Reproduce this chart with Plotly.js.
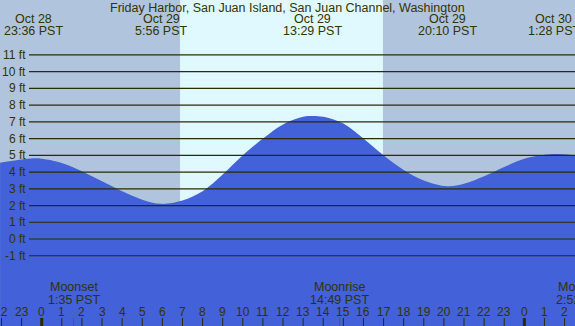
<!DOCTYPE html>
<html>
<head>
<meta charset="utf-8">
<script src="https://cdn.plot.ly/plotly-3.0.1.min.js"></script>
<style>html,body{margin:0;padding:0;background:#b0c4de;}#chart{width:575px;height:326px;}</style>
</head>
<body>
<div id="chart"></div>
<script>
// Tide heights (ft), hours relative to Oct 29 00:00 PST
var tideHours = [-2.07, -1, -0.4, 0, 1, 2, 3, 4, 5, 5.93, 7, 8, 9, 10, 11, 12, 13, 13.48, 14, 15, 16, 17, 18, 19, 20.17, 21, 22, 23, 24, 25.47, 26.52];
var tideFeet  = [4.56, 4.75, 4.82, 4.80, 4.55, 4.05, 3.45, 2.85, 2.35, 2.10, 2.30, 2.85, 3.85, 5.00, 6.00, 6.85, 7.30, 7.35, 7.30, 6.90, 6.00, 5.00, 4.12, 3.50, 3.15, 3.30, 3.75, 4.30, 4.80, 5.08, 5.00];

// Extremes labelled at top
var extremeHours = [-0.4, 5.933, 13.483, 20.167, 25.467];
var extremeDates = ["Oct 28", "Oct 29", "Oct 29", "Oct 29", "Oct 30"];
var extremeTimes = ["23:36 PST", "5:56 PST", "13:29 PST", "20:10 PST", "1:28 PST"];

// Moon events
var moonHours = [1.583, 14.817, 26.867];
var moonNames = ["Moonset", "Moonrise", "Moonset"];
var moonTimes = ["1:35 PST", "14:49 PST", "2:52 PST"];

// Hour ticks along the bottom
var hourTicks = [-2, -1, 0, 1, 2, 3, 4, 5, 6, 7, 8, 9, 10, 11, 12, 13, 14, 15, 16, 17, 18, 19, 20, 21, 22, 23, 24, 25, 26];
var hourLabels = ["22","23","0","1","2","3","4","5","6","7","8","9","10","11","12","13","14","15","16","17","18","19","20","21","22","23","0","1","2"];

// Height levels (ft)
var levels = [-1, 0, 1, 2, 3, 4, 5, 6, 7, 8, 9, 10, 11];

// Daylight
var sunrise = 6.88, sunset = 16.97;

var title = "Friday Harbor, San Juan Island, San Juan Channel, Washington";

var txt = "#333300";
var fontFam = "Liberation Sans, Arial, sans-serif";
var W = 575, H = 326;
var X0 = 41.7, PXH = 20.11;
var xmin = -X0/PXH, xmax = (W - X0)/PXH;
function toPaper(h){ return (h - xmin)/(xmax - xmin); }

var baseline = tideHours.map(function(){ return -10; });

var traces = [
  {x: tideHours, y: baseline, mode: "lines", line: {width: 0, color: "#4361d8"}, hoverinfo: "skip", showlegend: false},
  {x: tideHours, y: tideFeet, mode: "lines", line: {width: 0, shape: "spline", smoothing: 1, color: "#4361d8"},
   fill: "tonexty", fillcolor: "#4361d8", hoverinfo: "skip", showlegend: false}
];

var shapes = [];
shapes.push({type: "rect", xref: "x", yref: "paper", x0: sunrise, x1: sunset, y0: 0, y1: 1,
             fillcolor: "#e0f8ff", line: {width: 0}, layer: "below"});
levels.forEach(function(l){
  shapes.push({type: "line", xref: "paper", yref: "y", x0: 29/W, x1: 1, y0: l, y1: l,
               line: {color: "#2b2b00", width: 1.2}, layer: "above"});
});
hourTicks.forEach(function(h, i){
  var thick = (hourLabels[i] === "0");
  shapes.push({type: "line", xref: "x", yref: "paper", x0: h, x1: h, y0: 0, y1: 1 - 318/H,
               line: {color: "#2b2b00", width: thick ? 3 : 1}, layer: "above"});
});
moonHours.forEach(function(h){
  shapes.push({type: "line", xref: "x", yref: "paper", x0: h, x1: h, y0: 0, y1: 1 - 318/H,
               line: {color: "#6b5a1a", width: 1}, layer: "above"});
});

var ann = [];
function A(x, y, text, xanchor, size){
  ann.push({x: x, xref: "paper", y: y, yref: "paper", text: text, showarrow: false,
            xanchor: xanchor || "center", yanchor: "middle",
            font: {family: fontFam, size: size || 12.5, color: txt}});
}
var yr = 239/16.73 - (-(H-239)/16.73);
function yPaper(v){ return (v + (H-239)/16.73)/yr; }

A(0.5, 1 - 8/H, title, "center", 12.5);
extremeHours.forEach(function(h, i){
  A(toPaper(h), 1 - 18.5/H, extremeDates[i], "center", 12.5);
  A(toPaper(h), 1 - 31/H, extremeTimes[i], "center", 12.5);
});
moonHours.forEach(function(h, i){
  A(toPaper(h), 1 - 287/H, moonNames[i], "center", 12.5);
  A(toPaper(h), 1 - 299.5/H, moonTimes[i], "center", 12.5);
});
hourTicks.forEach(function(h, i){
  A(toPaper(h), 1 - 311.5/H, hourLabels[i], "center", 12);
});
levels.forEach(function(l){
  A(27.5/W, yPaper(l), l + " ft", "right", 12);
});

var layout = {
  width: W, height: H,
  margin: {l: 0, r: 0, t: 0, b: 0, pad: 0},
  paper_bgcolor: "#b0c4de", plot_bgcolor: "#b0c4de",
  xaxis: {range: [xmin, xmax], visible: false, fixedrange: true},
  yaxis: {range: [-(H-239)/16.73, 239/16.73], visible: false, fixedrange: true},
  shapes: shapes, annotations: ann, showlegend: false
};

Plotly.newPlot("chart", traces, layout, {staticPlot: true, displayModeBar: false});
</script>
</body>
</html>
